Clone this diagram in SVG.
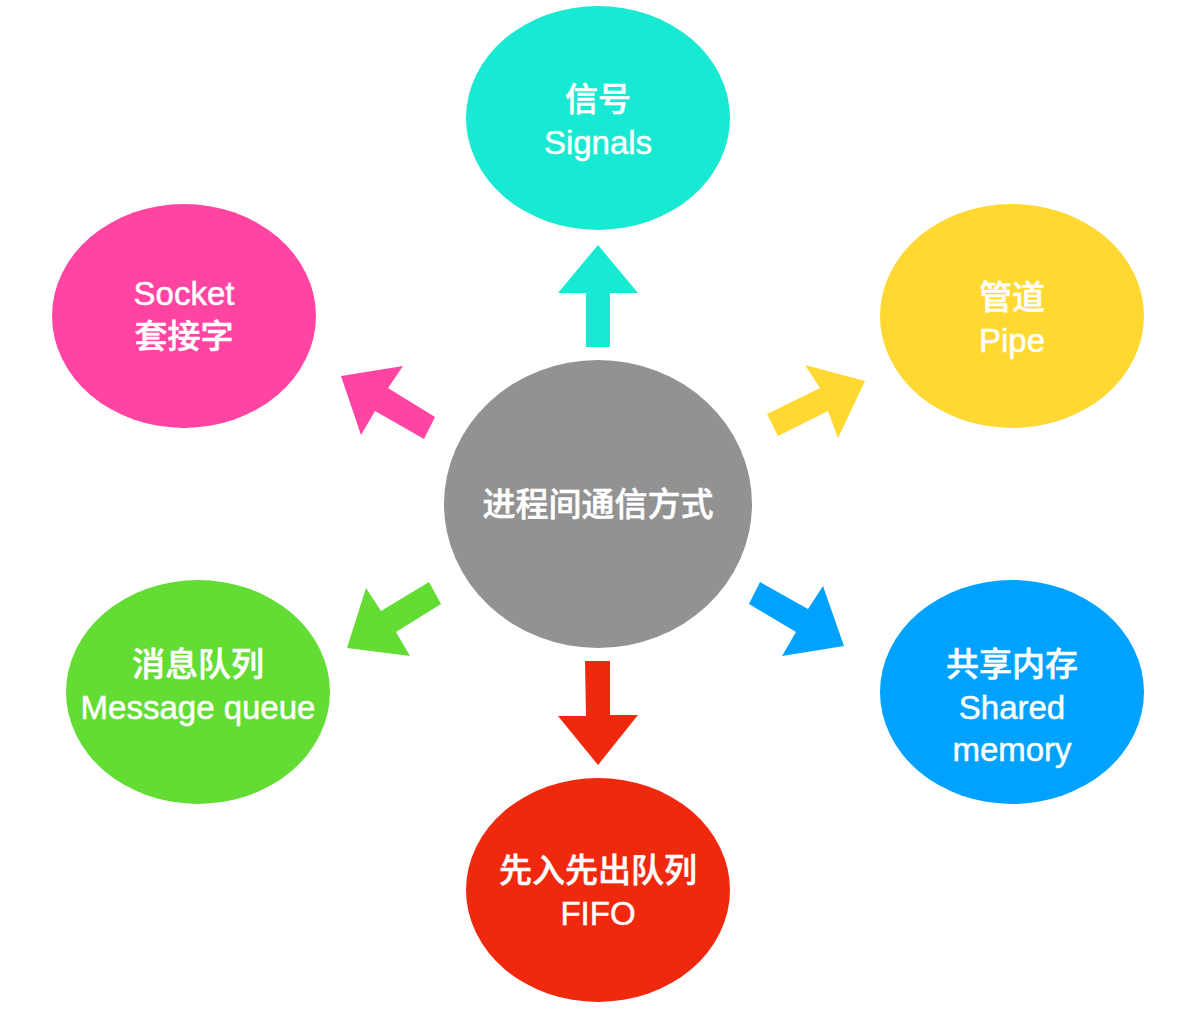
<svg xmlns="http://www.w3.org/2000/svg" width="1185" height="1010" viewBox="0 0 1185 1010">
<style>
text{font-family:"Liberation Sans","Noto Sans CJK SC",sans-serif;font-size:33px;font-weight:500;fill:#fff;text-anchor:middle;stroke:#fff;stroke-width:.5px}
.w{font-family:"Noto Sans CJK SC",sans-serif}
</style>
<rect width="1185" height="1010" fill="#fff"/>
<g id="connectors">
<polygon fill="#18e9d2" points="586,347 586,293 558,293 598,245 638,293 610,293 610,347"/>
<polygon fill="#ffd932" points="767,414 820,388 805,365 865,381 838,438 828,411 778,436"/>
<polygon fill="#ff44a2" points="435,417 388,388 403,366 341,376 361,435 375,411 424,439"/>
<polygon fill="#00a2ff" points="760,582 808,609 823,586 844,646 782,656 796,632 749,604"/>
<polygon fill="#63dc34" points="429,582 381,611 366,588 347,648 410,656 396,632 441,604"/>
<polygon fill="#f0280e" points="585,661 586,716 558,716 598,765 638,715 610,715 610,661"/>
</g>
<g id="center"><ellipse cx="598" cy="504" rx="154" ry="144" fill="#929292"/><text class="w" x="598" y="516">进程间通信方式</text></g>
<g id="signals"><ellipse cx="598" cy="118" rx="132" ry="112" fill="#18e9d2"/><text class="w" x="598" y="111">信号</text><text x="598" y="154">Signals</text></g>
<g id="pipe"><ellipse cx="1012" cy="316" rx="132" ry="112" fill="#ffd932"/><text class="w" x="1012" y="309">管道</text><text x="1012" y="352">Pipe</text></g>
<g id="socket"><ellipse cx="184" cy="316" rx="132" ry="112" fill="#ff44a2"/><text x="184" y="305">Socket</text><text class="w" x="184" y="348">套接字</text></g>
<g id="queue"><ellipse cx="198" cy="692" rx="132" ry="112" fill="#63dc34"/><text class="w" x="198" y="676">消息队列</text><text x="198" y="719">Message queue</text></g>
<g id="shared"><ellipse cx="1012" cy="692" rx="132" ry="112" fill="#00a2ff"/><text class="w" x="1012" y="676">共享内存</text><text x="1012" y="719">Shared</text><text x="1012" y="761">memory</text></g>
<g id="fifo"><ellipse cx="598" cy="890" rx="132" ry="112" fill="#f0280e"/><text class="w" x="598" y="882">先入先出队列</text><text x="598" y="925">FIFO</text></g>
</svg>
